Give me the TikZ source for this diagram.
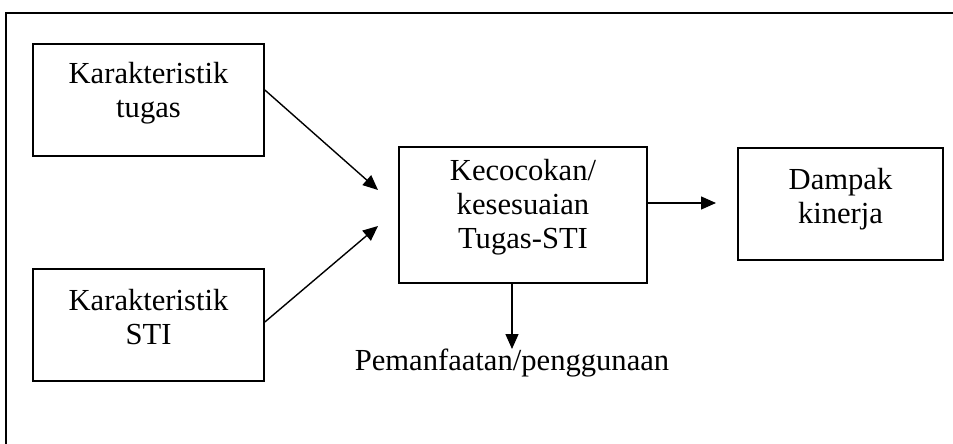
\documentclass[tikz,border=0pt]{standalone}
\usepackage{fontspec}
\setmainfont{Liberation Serif}
\usetikzlibrary{arrows.meta}
\begin{document}
\begin{tikzpicture}[x=1pt,y=-1pt,
  box/.style={draw,line width=1.7pt,inner sep=0pt},
  txt/.style={align=center,inner sep=0pt,font=\fontsize{30.6}{34}\selectfont},
  arr/.style={line width=1.4pt,-{Triangle[length=15pt,width=13pt]}}]
  \useasboundingbox (0,0) rectangle (953,444);
  % open frame: left and top edges only
  \draw[line width=1.5pt] (6,444) -- (6,13) -- (953,13);

  % boxes
  \node[box,minimum width=231pt,minimum height=112pt] (tugas) at (148.5,100) {};
  \node[box,minimum width=231pt,minimum height=112pt] (sti) at (148.5,325) {};
  \node[box,minimum width=248pt,minimum height=136pt] (fit) at (523,215) {};
  \node[box,minimum width=205pt,minimum height=112pt] (dampak) at (840.5,204) {};

  % box texts
  \node[txt] (tugasT) at ([yshift=7pt]tugas.center) {Karakteristik\\tugas};
  \node[txt] (stiT) at ([yshift=8pt]sti.center) {Karakteristik\\STI};
  \node[txt] (fitT) at ([yshift=8pt]fit.center) {Kecocokan/\\kesesuaian\\Tugas-STI};
  \node[txt] (dampakT) at ([yshift=5pt]dampak.center) {Dampak\\kinerja};
  \node[txt,anchor=base] (guna) at (512,370) {Pemanfaatan/penggunaan};

  \coordinate (t1) at (378,190);
  \coordinate (t2) at (378,226);
  \coordinate (t3) at (716,203);
  \coordinate (t4) at (512,349);

  \draw[arr] ([yshift=10pt]tugas.east) -- (t1);
  \draw[arr] ([yshift=3pt]sti.east) -- (t2);
  \draw[arr] (fit.east |- t3) -- (t3);
  \draw[arr] (fit.south -| t4) -- (t4);
\end{tikzpicture}
\end{document}
